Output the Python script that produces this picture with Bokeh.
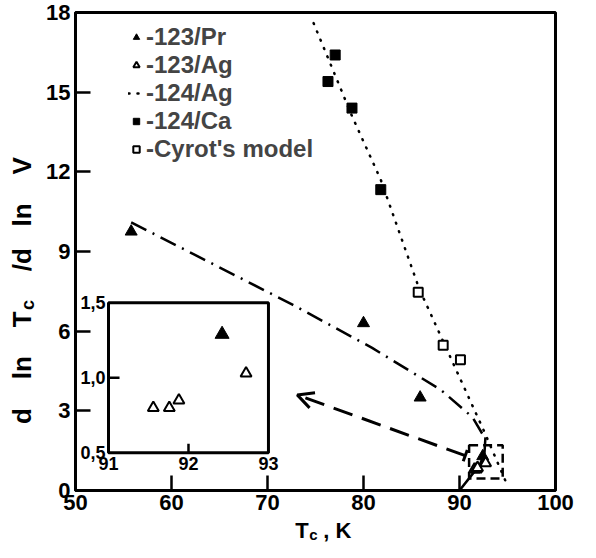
import math
from bokeh.plotting import figure
from bokeh.layouts import column, row
from bokeh.models import (Range1d, Legend, LegendItem, Arrow, OpenHead,
                          TeeHead, FixedTicker)
from bokeh.core.properties import value
from bokeh.embed import file_html
from bokeh.resources import INLINE

# ---------------- data ----------------
x_ticks = [50, 60, 70, 80, 90, 100]
y_ticks = [0, 3, 6, 9, 12, 15, 18]

pr123_x = [55.8, 80.0, 85.9, 92.42]          # 123/Pr  (filled triangles)
pr123_y = [9.75, 6.3, 3.5, 1.29]
ag123_x = [91.56, 91.76, 91.88, 92.72]       # 123/Ag  (open triangles)
ag123_y = [0.80, 0.80, 0.85, 1.03]
ag124_x = [74.8, 78.8, 81.8, 85.8, 92.6, 94.8]   # 124/Ag dotted line
ag124_y = [17.6, 14.1, 11.7, 7.6, 2.2, 0.35]
ca124_x = [76.3, 77.05, 78.8, 81.8]          # 124/Ca  (filled squares)
ca124_y = [15.4, 16.4, 14.4, 11.33]
cyrot_x = [85.7, 88.3, 90.1]                 # Cyrot's model (open squares)
cyrot_y = [7.47, 5.47, 4.92]
pr_fit_x = [55.8, 72.6, 80.9, 88.05, 91.35, 92.6]   # dash-dot trend
pr_fit_y = [10.1, 7.0, 5.37, 3.79, 2.76, 2.0]
ag_fit_x = [90.0, 91.2, 92.1, 92.6, 92.7]           # short solid trend
ag_fit_y = [0.0, 0.55, 0.95, 1.4, 2.0]
arrow_from = (90.6, 1.31)
arrow_to = (73.1, 3.6)
box_x = (91.0, 94.5)
box_y = (0.45, 1.7)

inset_x_ticks = [91, 92, 93]
inset_x_labels = ["91", "92", "93"]
inset_y_ticks = [0.5, 1.0, 1.5]
inset_y_labels = ["0,5", "1,0", "1,5"]

legend_labels = ["-123/Pr", "-123/Ag", "-124/Ag", "-124/Ca", "-Cyrot's model"]

NB = "\u00a0"
ylabel_parts = ["d" + NB * 4 + "ln" + NB * 4 + "T", "c",
                NB * 4 + "/d" + NB * 3 + "ln" + NB * 4 + "V"]
xlabel_parts = ["T", "c", ", K"]

FONT = "Liberation Sans"

# ---------------- main figure ----------------
p = figure(width=540, height=519, x_range=Range1d(50, 100), y_range=Range1d(0, 18),
           output_backend="svg", toolbar_location=None,
           min_border_left=35, min_border_right=25, min_border_top=12, min_border_bottom=29)
p.grid.visible = False
p.outline_line_color = "black"
p.outline_line_width = 3

for ax, ticks in ((p.xaxis[0], x_ticks), (p.yaxis[0], y_ticks)):
    ax.ticker = FixedTicker(ticks=ticks)
    ax.axis_line_width = 3
    ax.major_tick_in = 15
    ax.major_tick_out = 0
    ax.major_tick_line_width = 2.5
    ax.minor_tick_line_color = None
    ax.major_label_text_font = FONT
    ax.major_label_text_font_style = "bold"
    ax.major_label_text_font_size = "22px"
    ax.major_label_text_color = "black"
p.xaxis.major_label_standoff = 4
p.yaxis.major_label_standoff = 5

r_ag124 = p.line(ag124_x, ag124_y, line_color="black", line_width=2.5,
                 line_dash="1 8", line_cap="round")
p.line(pr_fit_x, pr_fit_y, line_color="black", line_width=2.5, line_dash="17 7 2 7")
p.line(ag_fit_x, ag_fit_y, line_color="black", line_width=2.5)
p.quad(left=[box_x[0]], right=[box_x[1]], bottom=[box_y[0]], top=[box_y[1]],
       fill_color=None, line_color="black", line_width=2.5, line_dash="9 5")
p.add_layout(Arrow(x_start=arrow_from[0], y_start=arrow_from[1],
                   x_end=arrow_to[0], y_end=arrow_to[1],
                   line_color="black", line_width=3, line_dash="20 10",
                   start=TeeHead(size=12, line_width=3),
                   end=OpenHead(size=16, line_width=3)))

r_pr = p.scatter(pr123_x, pr123_y, marker="triangle", size=12,
                 fill_color="black", line_color="black")
r_ag = p.scatter(ag123_x, ag123_y, marker="triangle", size=11,
                 fill_color="white", line_color="black", line_width=2)
r_ca = p.scatter(ca124_x, ca124_y, marker="square", size=10,
                 fill_color="black", line_color="black")
r_cy = p.scatter(cyrot_x, cyrot_y, marker="square", size=9,
                 fill_color="white", line_color="black", line_width=2)

legend = Legend(items=[LegendItem(label=legend_labels[0], renderers=[r_pr]),
                       LegendItem(label=legend_labels[1], renderers=[r_ag]),
                       LegendItem(label=legend_labels[2], renderers=[r_ag124]),
                       LegendItem(label=legend_labels[3], renderers=[r_ca]),
                       LegendItem(label=legend_labels[4], renderers=[r_cy])],
                location=(53, 327), border_line_color=None, background_fill_alpha=0,
                padding=0, margin=0, spacing=-2, glyph_width=16, glyph_height=20,
                label_height=20, label_standoff=2,
                label_text_font=FONT, label_text_font_style="bold",
                label_text_font_size="24px")
p.add_layout(legend)

# ---------------- inset (own scales mapped into a sub-region) ----------------
inset = p.subplot(x_source=Range1d(91, 93), y_source=Range1d(0.5, 1.5),
                  x_target=Range1d(53.44, 70.1), y_target=Range1d(1.42, 7.07))
inset.quad(left=[inset_x_ticks[0]], right=[inset_x_ticks[-1]],
           bottom=[inset_y_ticks[0]], top=[inset_y_ticks[-1]],
           fill_color="white", line_color="black", line_width=3)
inset.ray(x=[inset_x_ticks[1]], y=[inset_y_ticks[0]], length=9, length_units="screen",
          angle=math.pi / 2, line_color="black", line_width=2.5)
inset.ray(x=[inset_x_ticks[0]], y=[inset_y_ticks[1]], length=11, length_units="screen",
          angle=0, line_color="black", line_width=2.5)
inset.scatter(ag123_x, ag123_y, marker="triangle", size=11,
              fill_color="white", line_color="black", line_width=2)
inset.scatter([pr123_x[-1]], [pr123_y[-1]], marker="triangle", size=14,
              fill_color="black", line_color="black")
inset.text(x=inset_x_ticks, y=[inset_y_ticks[0]] * 3, text=inset_x_labels,
           text_align="center", text_baseline="top", y_offset=4,
           text_font=value(FONT), text_font_style="bold", text_font_size="18px")
inset.text(x=[inset_x_ticks[0]] * 3, y=inset_y_ticks, text=inset_y_labels,
           text_align="right", text_baseline="middle", x_offset=-3,
           text_font=value(FONT), text_font_style="bold", text_font_size="18px")

# ---------------- axis titles (side strips sharing the main ranges) ----------------
def strip(**kw):
    f = figure(output_backend="svg", toolbar_location=None, x_axis_type=None,
               y_axis_type=None, outline_line_color=None, **kw)
    f.grid.visible = False
    return f

ylab = strip(width=40, height=519, x_range=Range1d(0, 1), y_range=p.y_range,
             min_border_left=0, min_border_right=0, min_border_top=12, min_border_bottom=29)
yl_x, yl_y = 0.53, 2.5
ylab.text(x=[yl_x], y=[yl_y], text=[ylabel_parts[0]], angle=math.pi / 2,
          text_align="left", text_baseline="middle",
          text_font=value(FONT), text_font_style="bold", text_font_size="26px")
ylab.text(x=[yl_x], y=[yl_y], text=[ylabel_parts[1]], angle=math.pi / 2,
          x_offset=6, y_offset=-114, text_align="left", text_baseline="middle",
          text_font=value(FONT), text_font_style="bold", text_font_size="18px")
ylab.text(x=[yl_x], y=[yl_y], text=[ylabel_parts[2]], angle=math.pi / 2,
          y_offset=-124, text_align="left", text_baseline="middle",
          text_font=value(FONT), text_font_style="bold", text_font_size="26px")

xlab = strip(width=580, height=23, x_range=p.x_range, y_range=Range1d(0, 1),
             min_border_left=75, min_border_right=25, min_border_top=0, min_border_bottom=0)
xl_x, xl_y = 72.9, 0.54
xlab.text(x=[xl_x], y=[xl_y], text=[xlabel_parts[0]], text_align="left",
          text_baseline="middle", text_font=value(FONT), text_font_style="bold",
          text_font_size="22px")
xlab.text(x=[xl_x], y=[xl_y], text=[xlabel_parts[1]], x_offset=14, y_offset=4,
          text_align="left", text_baseline="middle", text_font=value(FONT),
          text_font_style="bold", text_font_size="15px")
xlab.text(x=[xl_x], y=[xl_y], text=[xlabel_parts[2]], x_offset=28,
          text_align="left", text_baseline="middle", text_font=value(FONT),
          text_font_style="bold", text_font_size="22px")

layout = column(row(ylab, p), xlab)
open("out.html", "w").write(file_html(layout, INLINE))
